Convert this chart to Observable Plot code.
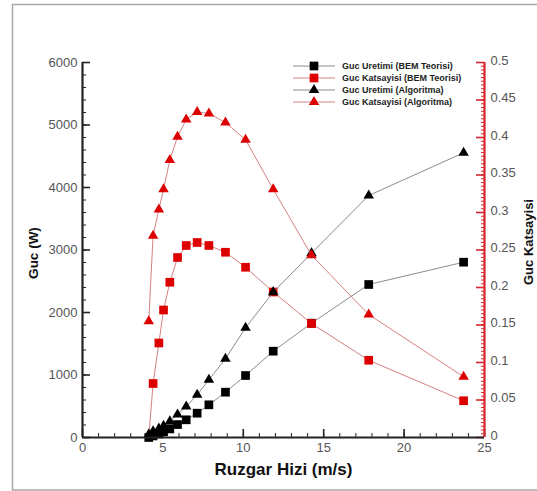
<!DOCTYPE html>
<html>
<head>
<meta charset="utf-8">
<script src="https://cdn.jsdelivr.net/npm/d3@7"></script>
<script src="https://cdn.jsdelivr.net/npm/@observablehq/plot@0.6"></script>
<style>
  html, body { margin: 0; padding: 0; background: #fff; }
  #chart { width: 537px; height: 491px; }
</style>
</head>
<body>
<div id="chart"></div>
<script>
// ---- data ----
const windSpeed = [4.12, 4.39, 4.75, 5.04, 5.43, 5.91, 6.45, 7.13, 7.86, 8.89, 10.14, 11.86, 14.24, 17.8, 23.7];
const powerBEM  = [0, 25, 56, 91, 137, 207, 283, 389, 523, 725, 992, 1381, 1829, 2448, 2805];
const cpBEM     = [0, 0.072, 0.126, 0.170, 0.207, 0.240, 0.256, 0.260, 0.256, 0.247, 0.227, 0.194, 0.152, 0.103, 0.049];
const powerAlg  = [49, 99, 141, 186, 257, 368, 496, 683, 923, 1259, 1755, 2325, 2949, 3872, 4555];
const cpAlg     = [0.155, 0.269, 0.304, 0.331, 0.370, 0.401, 0.424, 0.434, 0.432, 0.420, 0.397, 0.331, 0.243, 0.164, 0.081];

const seriesNames = ["Guc Uretimi (BEM Teorisi)", "Guc Katsayisi (BEM Teorisi)", "Guc Uretimi (Algoritma)", "Guc Katsayisi (Algoritma)"];
const seriesSymbols = ["square", "square", "triangle", "triangle"];
const seriesAxis = ["power", "cp", "power", "cp"];

const xTicks = [0, 5, 10, 15, 20, 25];
const powerTicks = [0, 1000, 2000, 3000, 4000, 5000, 6000];
const cpTicks = [0, 0.05, 0.1, 0.15, 0.2, 0.25, 0.3, 0.35, 0.4, 0.45, 0.5];
const xTitle = "Ruzgar Hizi (m/s)";
const yLeftTitle = "Guc (W)";
const yRightTitle = "Guc Katsayisi";

// ---- layout / style ----
const W = 537, H = 491;
const mL = 82, mR = 53, mT = 62, mB = 54;
const frameW = W - mL - mR, frameH = H - mT - mB;
const powerMax = 6000, cpMax = 0.5;
const cpToPower = powerMax / cpMax;
const markerColor = ["#000000", "#dd0000", "#000000", "#dd0000"];
const lineColor = ["#8c8c8c", "#d58080", "#8c8c8c", "#d58080"];
const axisRed = "#d8242c";
const labelGray = "#555";
const font = "'Liberation Sans', Arial, Helvetica, sans-serif";

const seriesValues = [powerBEM, cpBEM, powerAlg, cpAlg];
const series = seriesValues.map((vals, s) =>
  windSpeed.map((x, i) => ({
    x,
    y: seriesAxis[s] === "cp" ? vals[i] * cpToPower : vals[i],
    raw: vals[i]
  }))
);

const minorPower = d3.range(0, powerMax + 1, 200);
const minorCp = d3.range(0, 101).map(i => i * 0.005);
const minorX = d3.range(0, 26, 1);

const seriesMarks = [];
series.forEach((rows, s) => {
  seriesMarks.push(Plot.line(rows, {x: "x", y: "y", stroke: lineColor[s], strokeWidth: 1}));
  const shown = seriesAxis[s] === "cp" ? rows.filter(d => d.raw > 0) : rows;
  seriesMarks.push(Plot.dot(shown, {
    x: "x", y: "y", symbol: seriesSymbols[s],
    r: seriesSymbols[s] === "square" ? 4.9 : 3.9,
    fill: markerColor[s], stroke: null
  }));
});

const chart = Plot.plot({
  width: W, height: H,
  marginLeft: mL, marginRight: mR, marginTop: mT, marginBottom: mB,
  x: {domain: [0, 25], axis: null},
  y: {domain: [0, powerMax], axis: null},
  style: {fontFamily: font, background: "white", overflow: "visible"},
  marks: [
    // left axis ticks (inward)
    Plot.ruleY(minorPower, {y: d => d, insetRight: frameW - 4, stroke: "#222", strokeWidth: 1}),
    Plot.ruleY(powerTicks, {y: d => d, insetRight: frameW - 8, stroke: "#222", strokeWidth: 1.6}),
    // bottom axis ticks (inward)
    Plot.ruleX(minorX, {x: d => d, insetTop: frameH - 4, stroke: "#222", strokeWidth: 1}),
    Plot.ruleX(xTicks, {x: d => d, insetTop: frameH - 8, stroke: "#222", strokeWidth: 1.6}),
    // right axis ticks (inward, red)
    Plot.ruleY(minorCp, {y: d => d * cpToPower, insetLeft: frameW - 3, stroke: axisRed, strokeWidth: 1}),
    Plot.ruleY(cpTicks, {y: d => d * cpToPower, insetLeft: frameW - 8, stroke: axisRed, strokeWidth: 1.6}),
    // series
    ...seriesMarks,
    // axis lines
    Plot.ruleX([0], {stroke: "#222", strokeWidth: 2.2}),
    Plot.ruleY([0], {stroke: "#222", strokeWidth: 2.2}),
    Plot.ruleX([25], {stroke: axisRed, strokeWidth: 2.2}),
    // tick labels
    Plot.text(powerTicks, {x: 0, y: d => d, text: d => String(d), textAnchor: "end", dx: -5, fontSize: 13, fill: labelGray}),
    Plot.text(xTicks, {x: d => d, y: 0, text: d => String(d), lineAnchor: "top", dy: 5, fontSize: 13, fill: labelGray}),
    Plot.text(cpTicks, {x: 25, y: d => d * cpToPower, text: d => String(d), textAnchor: "start", dx: 6, dy: -2, fontSize: 13, fill: labelGray}),
    // axis titles
    Plot.text([yLeftTitle], {frameAnchor: "left", text: d => d, rotate: -90, textAnchor: "middle", dx: -49, dy: 3, fontSize: 13.5, fontWeight: "bold", fill: "#111"}),
    Plot.text([yRightTitle], {frameAnchor: "right", text: d => d, rotate: -90, textAnchor: "middle", dx: 44, dy: -8, fontSize: 13, fontWeight: "bold", fill: "#111"}),
    Plot.text([xTitle], {frameAnchor: "bottom", text: d => d, dy: 37, fontSize: 17, fontWeight: "bold", fill: "#111"})
  ]
});

document.getElementById("chart").appendChild(chart);

// ---- outer frame and legend ----
const svg = d3.select(chart);
svg.insert("rect", ":first-child")
  .attr("x", 12.5).attr("y", 4.5).attr("width", 600).attr("height", 485.5)
  .attr("fill", "white").attr("stroke", "#a8a8a8").attr("stroke-width", 1.5);

const legend = svg.append("g").attr("font-family", font).attr("text-anchor", "start");
const legX0 = 293, legX1 = 335, legMx = 314, legTx = 342, legY0 = 66, legDy = 12;
seriesNames.forEach((name, s) => {
  const y = legY0 + s * legDy;
  legend.append("line").attr("x1", legX0).attr("x2", legX1).attr("y1", y).attr("y2", y)
    .attr("stroke", lineColor[s]).attr("stroke-width", 1);
  const sym = seriesSymbols[s] === "square" ? d3.symbolSquare : d3.symbolTriangle;
  const r = seriesSymbols[s] === "square" ? 4.9 : 3.9;
  legend.append("path").attr("d", d3.symbol(sym, Math.PI * r * r)())
    .attr("transform", `translate(${legMx},${y})`).attr("fill", markerColor[s]);
  legend.append("text").attr("x", legTx).attr("y", y).attr("dy", "0.35em")
    .attr("text-anchor", "start")
    .attr("font-size", 9).attr("font-weight", "bold").attr("fill", "#222").text(name);
});
</script>
</body>
</html>
